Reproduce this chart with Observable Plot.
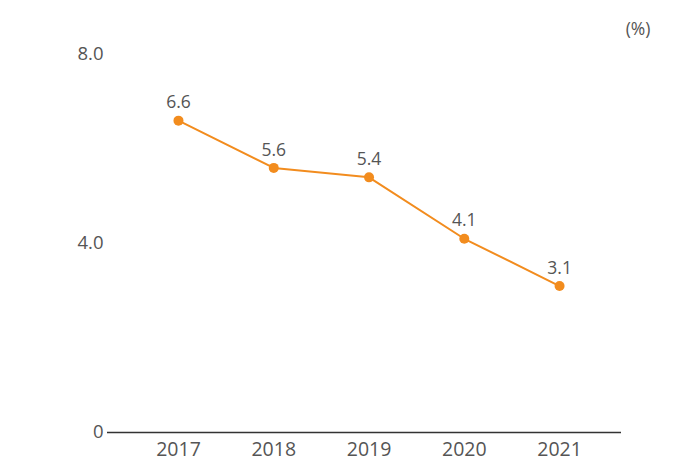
<!DOCTYPE html>
<html>
<head>
<meta charset="utf-8">
<script src="https://cdn.jsdelivr.net/npm/d3@7"></script>
<script src="https://cdn.jsdelivr.net/npm/@observablehq/plot@0.6"></script>
<style>
  html, body { margin: 0; padding: 0; background: #fff; }
</style>
</head>
<body>
<div id="chart"></div>
<script>
const years = [2017, 2018, 2019, 2020, 2021];
const values = [6.6, 5.6, 5.4, 4.1, 3.1];
const yTicks = [0, 4, 8];
const unitLabel = "(%)";

const data = years.map((y, i) => ({year: y, value: values[i]}));
const orange = "#F28C1E";
const textColor = "#555";

const chart = Plot.plot({
  width: 680,
  height: 463,
  marginLeft: 107,
  marginRight: 59,
  marginTop: 54,
  marginBottom: 31,
  style: {fontFamily: "'Open Sans', sans-serif", fontSize: "17px", color: textColor, background: "#fff"},
  x: {domain: [2016.255, 2021.65]},
  y: {domain: [0, 8]},
  marks: [
    Plot.axisY({ticks: yTicks, tickFormat: d => d === 0 ? "0" : d.toFixed(1), tickSize: 0, tickPadding: 4, label: null, fill: textColor, fontSize: 18.5}),
    Plot.axisX({ticks: years, tickFormat: d => String(d), tickSize: 0, tickPadding: 10, label: null, fill: textColor, fontSize: 19.5}),
    Plot.ruleY([0], {stroke: "#333", strokeWidth: 1.5}),
    Plot.line(data, {x: "year", y: "value", stroke: orange, strokeWidth: 2}),
    Plot.dot(data, {x: "year", y: "value", fill: orange, r: 5}),
    Plot.text(data, {x: "year", y: "value", text: d => d.value.toFixed(1), dy: -18, fill: textColor, fontSize: 17.5}),
    Plot.text([unitLabel], {frameAnchor: "top-right", dx: 29, dy: -32, fill: textColor, fontSize: 17.5})
  ]
});
document.getElementById("chart").appendChild(chart);
</script>
</body>
</html>
